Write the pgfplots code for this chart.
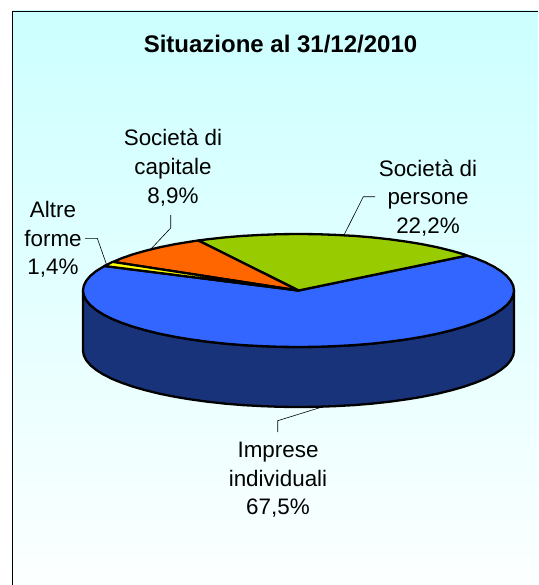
\documentclass[border=0pt]{standalone}
\usepackage{pgfplots}
\pgfplotsset{compat=1.18}
\usepackage{fontspec}
\setmainfont{Liberation Sans}
\definecolor{topbg}{HTML}{CCFFFF}
\definecolor{botbg}{HTML}{FCFFFF}
\definecolor{blueT}{HTML}{3366FF}
\definecolor{blueS}{HTML}{19337A}
\definecolor{greenT}{HTML}{99CC00}
\definecolor{orangeT}{HTML}{FF6600}
\definecolor{yellowT}{HTML}{FFFF00}
\tikzset{
  wedge/.style={draw=black, line width=2.3pt, mark=none, line join=round},
  leader/.style={draw=black, line width=0.6pt, mark=none},
  lab/.style={align=center, inner sep=0pt, font=\fontsize{22.4}{28.7}\selectfont},
}
\begin{document}
\begin{tikzpicture}
\begin{axis}[
  scale only axis, width=538pt, height=585pt,
  xmin=0, xmax=538, ymin=0, ymax=585, y dir=reverse,
  axis lines=none, clip=true,
]
% page white and background
\addplot[draw=none, fill=white, mark=none] coordinates {(0,0)(538,0)(538,585)(0,585)} -- cycle;
\addplot[draw=none, mark=none, top color=topbg, bottom color=botbg] coordinates {(12,11)(538,11)(538,585)(12,585)} -- cycle;
\addplot[draw=black, line width=1.4pt, mark=none] coordinates {(12.5,585)(12.5,11.5)(538,11.5)};
% side of the pie
\addplot[wedge, fill=blueS] coordinates {
(83,290.5)(83.8,295.4)(86.3,300.3)(90.3,305.1)(96,309.8)(103.2,314.4)(111.9,318.8)(122,322.9)(133.4,326.8)(146.1,330.4)(160,333.8)(174.9,336.8)(190.7,339.4)(207.4,341.7)(224.8,343.6)(242.7,345.1)(261.1,346.1)(279.7,346.8)(298.5,347)
(317.3,346.8)(335.9,346.1)(354.3,345.1)(372.2,343.6)(389.6,341.7)(406.3,339.4)(422.1,336.8)(437,333.8)(450.9,330.4)(463.6,326.8)(475,322.9)(485.1,318.8)(493.8,314.4)(501,309.8)(506.7,305.1)(510.7,300.3)(513.2,295.4)(514,290.5)
(514,350.5)(513.2,355.4)(510.7,360.3)(506.7,365.1)(501,369.8)(493.8,374.4)(485.1,378.8)(475,382.9)(463.6,386.8)(450.9,390.4)(437,393.8)(422.1,396.8)(406.3,399.4)(389.6,401.7)(372.2,403.6)(354.3,405.1)(335.9,406.1)(317.3,406.8)(298.5,407)
(279.7,406.8)(261.1,406.1)(242.7,405.1)(224.8,403.6)(207.4,401.7)(190.7,399.4)(174.9,396.8)(160,393.8)(146.1,390.4)(133.4,386.8)(122,382.9)(111.9,378.8)(103.2,374.4)(96,369.8)(90.3,365.1)(86.3,360.3)(83.8,355.4)(83,350.5)
} -- cycle;
% Imprese individuali 67,5%
\addplot[wedge, fill=blueT] coordinates {
(298.5,290.5)(104.5,266)(96,271.2)(90.3,275.9)(86.3,280.7)(83.8,285.6)(83,290.5)
(83.8,295.4)(86.3,300.3)(90.3,305.1)(96,309.8)(103.2,314.4)(111.9,318.8)(122,322.9)(133.4,326.8)(146.1,330.4)(160,333.8)(174.9,336.8)(190.7,339.4)(207.4,341.7)(224.8,343.6)(242.7,345.1)(261.1,346.1)(279.7,346.8)(298.5,347)
(317.3,346.8)(335.9,346.1)(354.3,345.1)(372.2,343.6)(389.6,341.7)(406.3,339.4)(422.1,336.8)(437,333.8)(450.9,330.4)(463.6,326.8)(475,322.9)(485.1,318.8)(493.8,314.4)(501,309.8)(506.7,305.1)(510.7,300.3)(513.2,295.4)(514,290.5)
(513.2,285.6)(510.7,280.7)(506.7,275.9)(501,271.2)(493.8,266.6)(485.1,262.2)(475,258.1)(467,255.6)
} -- cycle;
% Societa di persone 22,2%
\addplot[wedge, fill=greenT] coordinates {
(298.5,290.5)(467,255.6)(463.6,254.2)(450.9,250.6)(437,247.2)(422.1,244.2)(406.3,241.6)(389.6,239.3)(372.2,237.4)(354.3,235.9)(335.9,234.9)(317.3,234.2)(298.5,234)
(279.7,234.2)(261.1,234.9)(242.7,235.9)(224.8,237.4)(207.4,239.3)(198.3,240.5)
} -- cycle;
% Societa di capitale 8,9%
\addplot[wedge, fill=orangeT] coordinates {
(298.5,290.5)(198.3,240.5)(190.7,241.6)(174.9,244.2)(160,247.2)(146.1,250.6)(133.4,254.2)(122,258.1)(113,261.9)
} -- cycle;
% Altre forme 1,4%
\addplot[wedge, fill=yellowT] coordinates {
(298.5,290.5)(113,261.9)(111.9,262.2)(104.5,266)
} -- cycle;
% leaders
\addplot[leader] coordinates {(170.7,215)(170.7,228)(150,250)};
\addplot[leader] coordinates {(85,238.3)(97.3,238.3)(106.7,265)};
\addplot[leader] coordinates {(375,196.7)(363.3,196.7)(344,235)};
\addplot[leader] coordinates {(323,406.7)(277.7,420.7)(277.7,432)};
% texts
\node[inner sep=0pt, font=\fontsize{24}{28}\selectfont\bfseries] at (axis cs:280.5,44) {Situazione al 31/12/2010};
\node[lab] at (axis cs:173,167.5) {Società di\\capitale\\8,9\%};
\node[lab] at (axis cs:53,239.5) {Altre\\forme\\1,4\%};
\node[lab] at (axis cs:428,198) {Società di\\persone\\22,2\%};
\node[lab] at (axis cs:278,480) {Imprese\\individuali\\67,5\%};
\end{axis}
\end{tikzpicture}
\end{document}
